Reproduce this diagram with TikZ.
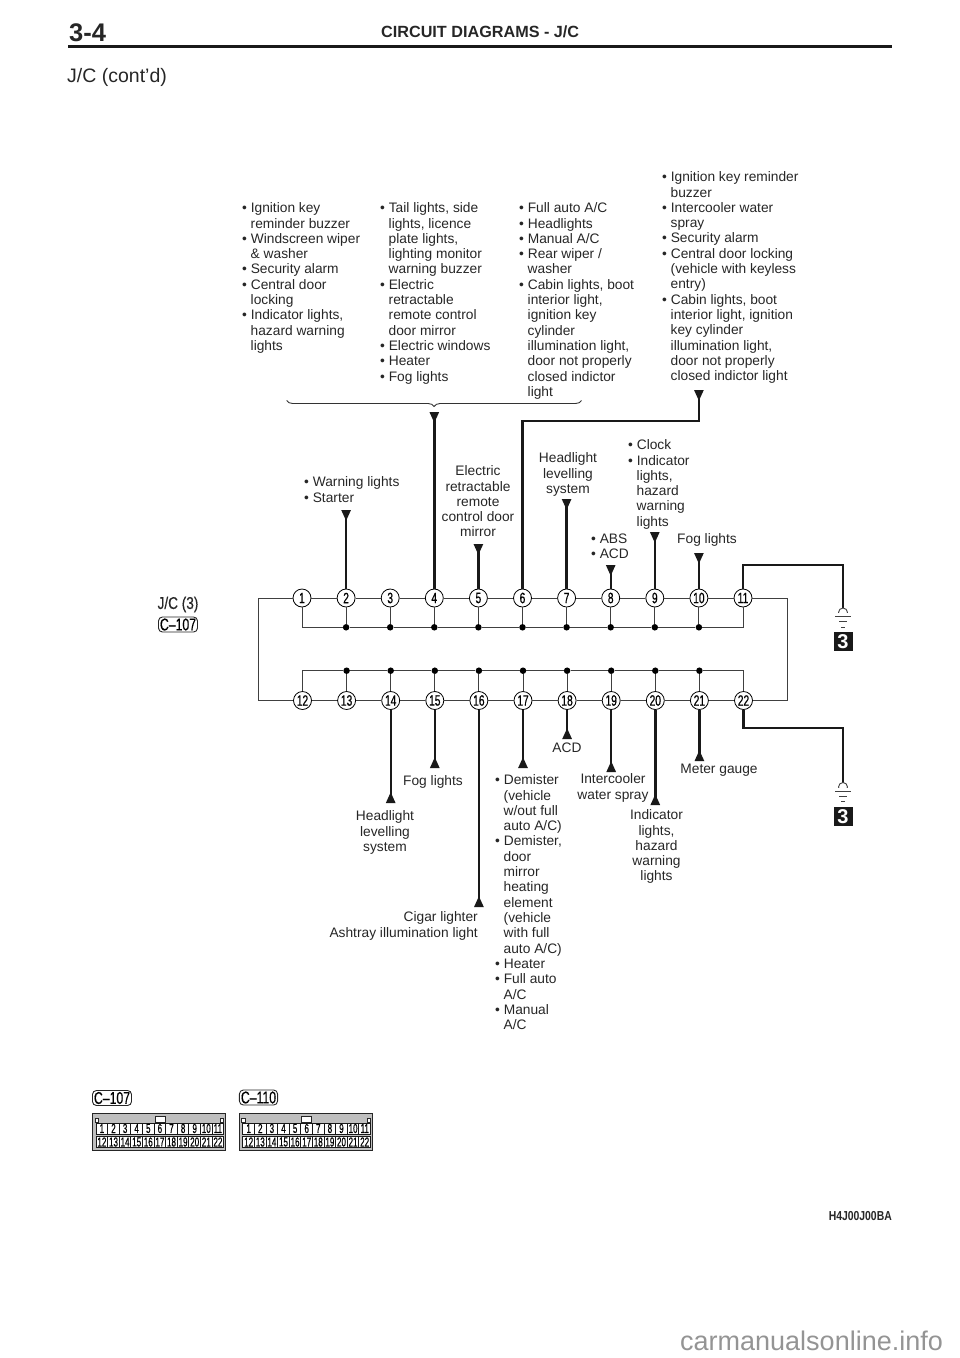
\documentclass[tikz,border=0pt]{standalone}
\usepackage{fontspec}
\setmainfont{Liberation Sans}
\usetikzlibrary{arrows.meta,positioning,decorations.pathreplacing}
\tikzset{
    %Define style for the junction pins
    pinnode/.style={
           circle,
           draw=black, thick,
           fill=white,
           inner sep=0pt,
           minimum size=18pt,
           font=\fontsize{15}{15}\selectfont\addfontfeature{FakeStretch=0.68,FakeBold=0.6}
           },
    dotnode/.style={
           circle,
           fill=black,
           inner sep=0pt,
           minimum size=6.5pt
           },
    % Define text styles
    note/.style={
           inner sep=0pt,
           align=left,
           anchor=north west,
           font=\fontsize{13.75}{15.33}\selectfont,
           text=black!85
           },
    notemid/.style={
           note,
           align=center,
           anchor=north
           },
    % Define wire styles
    thinwire/.style={
           draw=black!75,
           line width=1pt
           },
    wire/.style={
           draw=black!90,
           line width=2.4pt
           },
    tipped/.style={
           wire,
           -{Triangle[reversed,width=9pt,length=11pt,sep=0pt]}
           },
    groundbox/.style={
           rectangle,
           fill=black!90,
           text=white,
           inner sep=0pt,
           minimum width=19pt,
           minimum height=19pt,
           font=\fontsize{20}{20}\selectfont\bfseries
           },
    groundline/.style={
           draw=black!75,
           line width=.9pt
           },
    cell/.style={
           rectangle,
           draw=black!90,
           line width=1pt,
           fill=white,
           inner sep=0pt,
           minimum width=11.6pt,
           minimum height=11pt,
           font=\fontsize{13}{13}\selectfont\addfontfeature{FakeStretch=0.62,FakeBold=0.6}
           },
    tagbox/.style={
           rectangle,
           rounded corners=4pt,
           draw=black!85,
           line width=.9pt,
           inner xsep=1.5pt,
           inner ysep=1.5pt,
           font=\fontsize{17}{17}\selectfont\addfontfeature{FakeStretch=0.72,FakeBold=0.5}
           }
}
\newcommand{\hang}{\hspace*{8.5pt}}
\begin{document}
\begin{tikzpicture}[x=1pt,y=-1pt,node distance=25.3pt]
\useasboundingbox (0,0) rectangle (960,1358);
% header
\node[inner sep=0pt,anchor=west,font=\fontsize{25.5}{25.5}\selectfont\bfseries,text=black!85](page) at (69,32.5){3-4};
\node[inner sep=0pt,anchor=west,font=\fontsize{16.2}{16.2}\selectfont\bfseries,text=black!85](title) at (381,32){CIRCUIT DIAGRAMS - J/C};
\coordinate (rulel) at (68,46);
\coordinate (ruler) at (892,46);
\draw[line width=3pt,black!90] (rulel) -- (ruler);
\node[inner sep=0pt,anchor=west,font=\fontsize{19.5}{19.5}\selectfont,text=black!85](cont) at (67,77.5){J/C (cont’d)};
% upper pins
\node[pinnode](p1) at (302,598){1};
\node[pinnode, right=of p1](p2){2};
\node[pinnode, right=of p2](p3){3};
\node[pinnode, right=of p3](p4){4};
\node[pinnode, right=of p4](p5){5};
\node[pinnode, right=of p5](p6){6};
\node[pinnode, right=of p6](p7){7};
\node[pinnode, right=of p7](p8){8};
\node[pinnode, right=of p8](p9){9};
\node[pinnode, right=of p9](p10){10};
\node[pinnode, right=of p10](p11){11};
% lower pins
\node[pinnode](p12) at (302.5,700.5){12};
\node[pinnode, right=of p12](p13){13};
\node[pinnode, right=of p13](p14){14};
\node[pinnode, right=of p14](p15){15};
\node[pinnode, right=of p15](p16){16};
\node[pinnode, right=of p16](p17){17};
\node[pinnode, right=of p17](p18){18};
\node[pinnode, right=of p18](p19){19};
\node[pinnode, right=of p19](p20){20};
\node[pinnode, right=of p20](p21){21};
\node[pinnode, right=of p21](p22){22};
% bus dots
\node[dotnode](d2) at (p2 |- 0,627.3){};
\node[dotnode](d3) at (p3 |- 0,627.3){};
\node[dotnode](d4) at (p4 |- 0,627.3){};
\node[dotnode](d5) at (p5 |- 0,627.3){};
\node[dotnode](d6) at (p6 |- 0,627.3){};
\node[dotnode](d7) at (p7 |- 0,627.3){};
\node[dotnode](d8) at (p8 |- 0,627.3){};
\node[dotnode](d9) at (p9 |- 0,627.3){};
\node[dotnode](d10) at (p10 |- 0,627.3){};
\node[dotnode](d13) at (p13 |- 0,670.7){};
\node[dotnode](d14) at (p14 |- 0,670.7){};
\node[dotnode](d15) at (p15 |- 0,670.7){};
\node[dotnode](d16) at (p16 |- 0,670.7){};
\node[dotnode](d17) at (p17 |- 0,670.7){};
\node[dotnode](d18) at (p18 |- 0,670.7){};
\node[dotnode](d19) at (p19 |- 0,670.7){};
\node[dotnode](d20) at (p20 |- 0,670.7){};
\node[dotnode](d21) at (p21 |- 0,670.7){};
\coordinate (railnw) at (258.7,598);
\coordinate (railsw) at (258.7,700.5);
\coordinate (railne) at (787.7,598);
\coordinate (railse) at (787.7,700.5);
\path[thinwire]
	(p1) edge (p2) (p2) edge (p3) (p3) edge (p4) (p4) edge (p5) (p5) edge (p6)
	(p6) edge (p7) (p7) edge (p8) (p8) edge (p9) (p9) edge (p10) (p10) edge (p11)
	(p12) edge (p13) (p13) edge (p14) (p14) edge (p15) (p15) edge (p16) (p16) edge (p17)
	(p17) edge (p18) (p18) edge (p19) (p19) edge (p20) (p20) edge (p21) (p21) edge (p22)
	(p2) edge (d2) (p3) edge (d3) (p4) edge (d4) (p5) edge (d5) (p6) edge (d6)
	(p7) edge (d7) (p8) edge (d8) (p9) edge (d9) (p10) edge (d10)
	(p13) edge (d13) (p14) edge (d14) (p15) edge (d15) (p16) edge (d16) (p17) edge (d17)
	(p18) edge (d18) (p19) edge (d19) (p20) edge (d20) (p21) edge (d21)
	(d2) edge (d3) (d3) edge (d4) (d4) edge (d5) (d5) edge (d6) (d6) edge (d7)
	(d7) edge (d8) (d8) edge (d9) (d9) edge (d10)
	(d13) edge (d14) (d14) edge (d15) (d15) edge (d16) (d16) edge (d17) (d17) edge (d18)
	(d18) edge (d19) (d19) edge (d20) (d20) edge (d21);
\draw[thinwire] (p1) |- (d2);
\draw[thinwire] (p11) |- (d10);
\draw[thinwire] (p12) |- (d13);
\draw[thinwire] (p22) |- (d21);
\draw[thinwire] (p1) -- (railnw) -- (railsw) -- (p12);
\draw[thinwire] (p11) -- (railne) -- (railse) -- (p22);
% heavy wires, upper side
\coordinate (e2) at (p2 |- 0,510);
\coordinate (e4) at (p4 |- 0,412);
\coordinate (e5) at (p5 |- 0,544);
\coordinate (e6k) at (p6 |- 0,421);
\coordinate (e6) at (p10 |- 0,390);
\coordinate (e7) at (p7 |- 0,499);
\coordinate (e8) at (p8 |- 0,565);
\coordinate (e9) at (p9 |- 0,532);
\coordinate (e10) at (p10 |- 0,553);
\coordinate (gt) at (843,608);
\coordinate (gtk) at (p11 |- 0,565);
\draw[tipped] (p2) -- (e2);
\draw[tipped] (p4) -- (e4);
\draw[tipped] (p5) -- (e5);
\draw[tipped] (p6) |- (e6k) -| (e6);
\draw[tipped] (p7) -- (e7);
\draw[tipped] (p8) -- (e8);
\draw[tipped] (p9) -- (e9);
\draw[tipped] (p10) -- (e10);
\draw[wire] (p11) |- (gtk) -| (gt);
% heavy wires, lower side
\coordinate (e14) at (p14 |- 0,803);
\coordinate (e15) at (p15 |- 0,768);
\coordinate (e16) at (p16 |- 0,907);
\coordinate (e17) at (p17 |- 0,768);
\coordinate (e18) at (p18 |- 0,739);
\coordinate (e19) at (p19 |- 0,772);
\coordinate (e20) at (p20 |- 0,805);
\coordinate (e21) at (p21 |- 0,761);
\coordinate (gb) at (843,783);
\coordinate (gbk) at (p22 |- 0,728);
\draw[tipped] (p14) -- (e14);
\draw[tipped] (p15) -- (e15);
\draw[tipped] (p16) -- (e16);
\draw[tipped] (p17) -- (e17);
\draw[tipped] (p18) -- (e18);
\draw[tipped] (p19) -- (e19);
\draw[tipped] (p20) -- (e20);
\draw[tipped] (p21) -- (e21);
\draw[wire] (p22) |- (gbk) -| (gb);
% grounds
\draw[groundline] (843,612.5) circle (4.5pt);
\fill[white] (837,613) rectangle (849,619);
\draw[groundline] (835,616) -- (851,616) (839,621) -- (847,621) (841,627) -- (845,627);
\node[groundbox](g1) at (843,641.5){3};
\draw[groundline] (843,787) circle (4.5pt);
\fill[white] (837,787.5) rectangle (849,793);
\draw[groundline] (835,791) -- (851,791) (839,796) -- (847,796) (841,801) -- (845,801);
\node[groundbox](g2) at (843,816.5){3};
% brace
\coordinate (bracel) at (286.7,400.5);
\coordinate (bracer) at (581.5,400.5);
\draw[black!80,line width=.9pt,decorate,decoration={brace,mirror,amplitude=6pt}] (bracel) -- (bracer);
% notes above
\node[note](t1) at (242,202.5){• Ignition key\\\hang reminder buzzer\\• Windscreen wiper\\\hang \& washer\\• Security alarm\\• Central door\\\hang locking\\• Indicator lights,\\\hang hazard warning\\\hang lights};
\node[note](t2) at (380,202.5){• Tail lights, side\\\hang lights, licence\\\hang plate lights,\\\hang lighting monitor\\\hang warning buzzer\\• Electric\\\hang retractable\\\hang remote control\\\hang door mirror\\• Electric windows\\• Heater\\• Fog lights};
\node[note](t3) at (519,202.5){• Full auto A/C\\• Headlights\\• Manual A/C\\• Rear wiper /\\\hang washer\\• Cabin lights, boot\\\hang interior light,\\\hang ignition key\\\hang cylinder\\\hang illumination light,\\\hang door not properly\\\hang closed indictor\\\hang light};
\node[note](t4) at (662,171.5){• Ignition key reminder\\\hang buzzer\\• Intercooler water\\\hang spray\\• Security alarm\\• Central door locking\\\hang (vehicle with keyless\\\hang entry)\\• Cabin lights, boot\\\hang interior light, ignition\\\hang key cylinder\\\hang illumination light,\\\hang door not properly\\\hang closed indictor light};
\node[note](t5) at (304,476.5){• Warning lights\\• Starter};
\node[notemid](t6) at (478,465.5){Electric\\retractable\\remote\\control door\\mirror};
\node[notemid](t7) at (568,452.5){Headlight\\levelling\\system};
\node[note](t8) at (628,439.5){• Clock\\• Indicator\\\hang lights,\\\hang hazard\\\hang warning\\\hang lights};
\node[note](t9) at (591,533.5){• ABS\\• ACD};
\node[note](t10) at (677,533.5){Fog lights};
% notes below
\node[notemid](b1) at (567,742.5){ACD};
\node[notemid](b2) at (613,773.5){Intercooler\\water spray};
\node[notemid](b3) at (719,763.5){Meter gauge};
\node[notemid](b4) at (656.5,809.5){Indicator\\lights,\\hazard\\warning\\lights};
\node[notemid](b5) at (433,775.5){Fog lights};
\node[notemid](b6) at (385,810.5){Headlight\\levelling\\system};
\node[note,align=right,anchor=north east](b7) at (478,911.5){Cigar lighter\\Ashtray illumination light};
\node[note](b8) at (495,774.5){• Demister\\\hang (vehicle\\\hang w/out full\\\hang auto A/C)\\• Demister,\\\hang door\\\hang mirror\\\hang heating\\\hang element\\\hang (vehicle\\\hang with full\\\hang auto A/C)\\• Heater\\• Full auto\\\hang A/C\\• Manual\\\hang A/C};
% connector tags
\node[inner sep=0pt,font=\fontsize{17}{17}\selectfont\addfontfeature{FakeStretch=0.8,FakeBold=0.5},text=black!85](jc) at (178,604.5){J/C (3)};
\node[tagbox](tag1) at (178,624.5){C–107};
\node[tagbox](tag2) at (112,1098){C–107};
\node[tagbox](tag3) at (258.5,1097.5){C–110};
% connector faces
\draw[black!85,line width=1pt,fill=black!25] (92.7,1113) rectangle (225.5,1150);
\draw[black!85,line width=1pt,fill=black!25] (239.5,1113) rectangle (372.5,1150);
\draw[black!85,line width=.8pt,fill=white] (155,1122) rectangle (165,1116);
\draw[black!85,line width=.8pt,fill=white] (301.5,1122) rectangle (311.5,1116);
\draw[black!85,line width=.7pt,fill=white] (95,1122) rectangle (98.5,1118) (220,1122) rectangle (223.5,1118);
\draw[black!85,line width=.7pt,fill=white] (241.5,1122) rectangle (245,1118) (367,1122) rectangle (370.5,1118);
\foreach \n in {1,...,11}{
  \node[cell](ca\n) at (90.3+11.6*\n,1128.5){\n};
  \node[cell](cb\n) at (237.1+11.6*\n,1128.5){\n};
}
\foreach \n in {12,...,22}{
  \node[cell](ca\n) at (90.3+11.6*\n-127.6,1142){\n};
  \node[cell](cb\n) at (237.1+11.6*\n-127.6,1142){\n};
}
\node[inner sep=0pt,anchor=east,font=\fontsize{13}{13}\selectfont\bfseries\addfontfeature{FakeStretch=0.8},text=black!85](code) at (892,1216){H4J00J00BA};
\node[inner sep=0pt,anchor=west,font=\fontsize{27}{27}\selectfont,text=black!42](site) at (680,1341){carmanualsonline.info};
\end{tikzpicture}
\end{document}
